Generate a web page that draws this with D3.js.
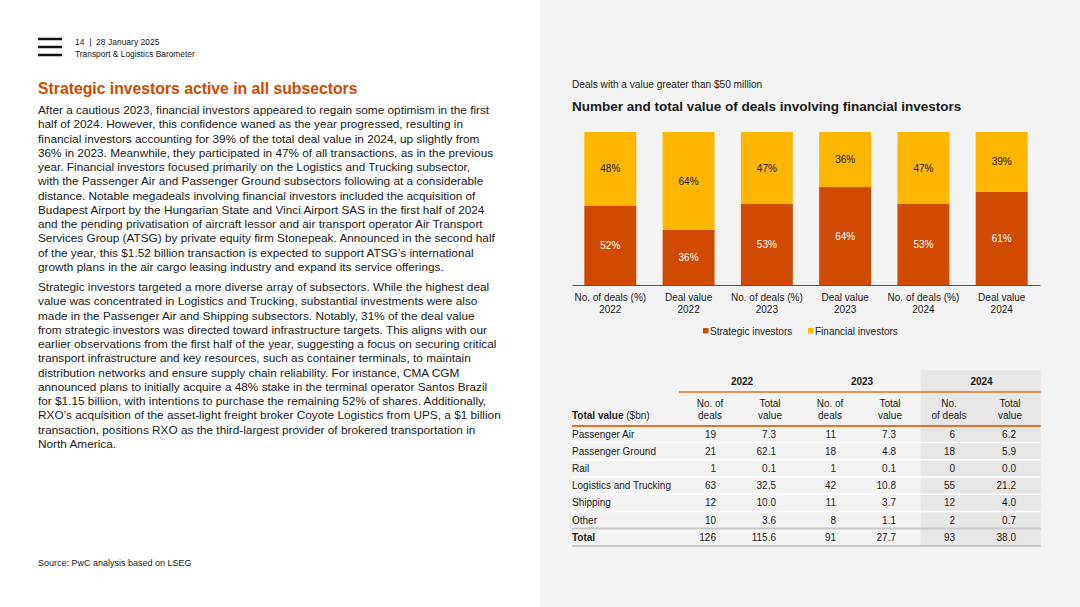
<!DOCTYPE html>
<html>
<head>
<meta charset="utf-8">
<script src="https://cdn.jsdelivr.net/npm/d3@7.9.0/dist/d3.min.js"></script>
<style>
  html, body { margin: 0; padding: 0; background: #fff; }
  svg { display: block; font-family: "Liberation Sans", Arial, sans-serif; }
</style>
</head>
<body>
<div id="page"></div>
<script>
// bar chart data
const categories = ['No. of deals (%)|2022', 'Deal value|2022', 'No. of deals (%)|2023',
  'Deal value|2023', 'No. of deals (%)|2024', 'Deal value|2024'];
const strategic = [52, 36, 53, 64, 53, 61];
const financial = [48, 64, 47, 36, 47, 39];
const seriesNames = ['Strategic investors', 'Financial investors'];

// table data
const years = ['2022', '2023', '2024'];
const sectors = ['Passenger Air', 'Passenger Ground', 'Rail', 'Logistics and Trucking', 'Shipping', 'Other', 'Total'];
const deals2022 = [19, 21, 1, 63, 12, 10, 126];
const value2022 = [7.3, 62.1, 0.1, 32.5, 10.0, 3.6, 115.6];
const deals2023 = [11, 18, 1, 42, 11, 8, 91];
const value2023 = [7.3, 4.8, 0.1, 10.8, 3.7, 1.1, 27.7];
const deals2024 = [6, 18, 0, 55, 12, 2, 93];
const value2024 = [6.2, 5.9, 0.0, 21.2, 4.0, 0.7, 38.0];

const para1 = [
  'After a cautious 2023, financial investors appeared to regain some optimism in the first',
  'half of 2024. However, this confidence waned as the year progressed, resulting in',
  'financial investors accounting for 39% of the total deal value in 2024, up slightly from',
  '36% in 2023. Meanwhile, they participated in 47% of all transactions, as in the previous',
  'year. Financial investors focused primarily on the Logistics and Trucking subsector,',
  'with the Passenger Air and Passenger Ground subsectors following at a considerable',
  'distance. Notable megadeals involving financial investors included the acquisition of',
  'Budapest Airport by the Hungarian State and Vinci Airport SAS in the first half of 2024',
  'and the pending privatisation of aircraft lessor and air transport operator Air Transport',
  'Services Group (ATSG) by private equity firm Stonepeak. Announced in the second half',
  'of the year, this $1.52 billion transaction is expected to support ATSG\u2019s international',
  'growth plans in the air cargo leasing industry and expand its service offerings.'
];
const para2 = [
  'Strategic investors targeted a more diverse array of subsectors. While the highest deal',
  'value was concentrated in Logistics and Trucking, substantial investments were also',
  'made in the Passenger Air and Shipping subsectors. Notably, 31% of the deal value',
  'from strategic investors was directed toward infrastructure targets. This aligns with our',
  'earlier observations from the first half of the year, suggesting a focus on securing critical',
  'transport infrastructure and key resources, such as container terminals, to maintain',
  'distribution networks and ensure supply chain reliability. For instance, CMA CGM',
  'announced plans to initially acquire a 48% stake in the terminal operator Santos Brazil',
  'for $1.15 billion, with intentions to purchase the remaining 52% of shares. Additionally,',
  'RXO\u2019s acquisition of the asset-light freight broker Coyote Logistics from UPS, a $1 billion',
  'transaction, positions RXO as the third-largest provider of brokered transportation in',
  'North America.'
];

const ORANGE = '#d04a02';
const YELLOW = '#ffb600';
const TEXT = '#1a1a1a';

const svg = d3.select('#page').append('svg')
  .attr('width', 1080).attr('height', 607);

// right grey panel
svg.append('rect').attr('x', 540).attr('y', 0).attr('width', 540).attr('height', 607).attr('fill', '#f3f3f3');

// header
[39, 47, 55].forEach(y => {
  svg.append('rect').attr('x', 38).attr('y', y - 1.25).attr('width', 24).attr('height', 2.5).attr('fill', '#111');
});
svg.append('text').attr('x', 75).attr('y', 45.3).attr('font-size', 8.5).attr('fill', TEXT)
  .attr('xml:space', 'preserve').text('14  |  28 January 2025');
svg.append('text').attr('x', 75).attr('y', 57.3).attr('font-size', 8.4).attr('fill', TEXT)
  .text('Transport & Logistics Barometer');

// left column text
svg.append('text').attr('x', 38).attr('y', 93.8).attr('font-size', 15.75).attr('font-weight', 'bold')
  .attr('fill', ORANGE).text('Strategic investors active in all subsectors');

function paragraph(lines, y0) {
  svg.append('g').selectAll('text').data(lines).join('text')
    .attr('x', 38).attr('y', (d, i) => y0 + i * 14.25)
    .attr('font-size', 11.8).attr('fill', TEXT).text(d => d);
}
paragraph(para1, 114.1);
paragraph(para2, 291.1);

svg.append('text').attr('x', 38).attr('y', 566.2).attr('font-size', 9).attr('fill', TEXT)
  .text('Source: PwC analysis based on LSEG');

// chart headings
svg.append('text').attr('x', 572).attr('y', 87.6).attr('font-size', 10.1).attr('fill', TEXT)
  .text('Deals with a value greater than $50 million');
svg.append('text').attr('x', 572).attr('y', 111.2).attr('font-size', 13.5).attr('font-weight', 'bold')
  .attr('fill', TEXT).text('Number and total value of deals involving financial investors');

// stacked bars
const x = d3.scaleBand().domain(categories).range([572, 1040]).paddingInner(0.336).paddingOuter(0.157);
const y = d3.scaleLinear().domain([0, 100]).range([285, 132]);

const rows = categories.map((c, i) => ({ cat: c, strategic: strategic[i], financial: financial[i] }));
const stack = d3.stack().keys(['strategic', 'financial'])(rows);
const colors = { strategic: ORANGE, financial: YELLOW };
const labelColors = { strategic: '#ffffff', financial: TEXT };

const layers = svg.append('g').selectAll('g').data(stack).join('g')
  .attr('fill', d => colors[d.key]);
layers.selectAll('rect').data(d => d).join('rect')
  .attr('x', d => x(d.data.cat))
  .attr('y', d => y(d[1]))
  .attr('width', x.bandwidth())
  .attr('height', d => y(d[0]) - y(d[1]));

stack.forEach(layer => {
  svg.append('g').selectAll('text').data(layer).join('text')
    .attr('x', d => x(d.data.cat) + x.bandwidth() / 2)
    .attr('y', d => (y(d[0]) + y(d[1])) / 2 + 3.6)
    .attr('text-anchor', 'middle').attr('font-size', 10)
    .attr('fill', labelColors[layer.key])
    .text(d => d.data[layer.key] + '%');
});

const xAxis = svg.append('g').attr('transform', 'translate(0,285)')
  .call(d3.axisBottom(x).tickSize(0).tickSizeOuter(0).tickFormat(''));
xAxis.select('.domain').attr('stroke', '#555').attr('stroke-width', 1);
xAxis.selectAll('.tick text').remove();
xAxis.selectAll('.tick').each(function (d) {
  const parts = d.split('|');
  const t = d3.select(this).append('text').attr('fill', TEXT).attr('font-size', 10)
    .attr('text-anchor', 'middle');
  parts.forEach((p, i) => t.append('tspan').attr('x', 0).attr('y', 15.5 + i * 12).text(p));
});

// legend
const legend = svg.append('g');
[[703, 'strategic'], [808, 'financial']].forEach(([lx, key], i) => {
  legend.append('rect').attr('x', lx).attr('y', 328).attr('width', 5.5).attr('height', 5.5).attr('fill', colors[key]);
  legend.append('text').attr('x', lx + 7).attr('y', 334.5).attr('font-size', 10).attr('fill', TEXT).text(seriesNames[i]);
});

// table
const colRight = [716, 776, 836, 896, 955, 1016];
const colVals = [deals2022, value2022, deals2023, value2023, deals2024, value2024];
const rowY = d3.scaleLinear().domain([0, 1]).range([434, 451.2]);

const tbl = svg.append('g').attr('font-size', 10).attr('fill', TEXT);
tbl.append('rect').attr('x', 920.7).attr('y', 370).attr('width', 120).attr('height', 176).attr('fill', '#e6e6e6');

years.forEach((yr, i) => {
  tbl.append('text').attr('x', (colRight[i * 2] + colRight[i * 2 + 1]) / 2 - 4).attr('y', 384.5)
    .attr('text-anchor', 'middle').attr('font-weight', 'bold').text(yr);
});
tbl.append('line').attr('x1', 679).attr('x2', 1040.7).attr('y1', 392).attr('y2', 392)
  .attr('stroke', '#e0702a').attr('stroke-width', 1.5);

const subHeads = [['No. of', 'deals'], ['Total', 'value'], ['No. of', 'deals'], ['Total', 'value'], ['No.', 'of deals'], ['Total', 'value']];
subHeads.forEach((h, i) => {
  h.forEach((line, j) => {
    tbl.append('text').attr('x', colRight[i] - 6).attr('y', 406.5 + j * 12.5)
      .attr('text-anchor', 'middle').text(line);
  });
});
const th = tbl.append('text').attr('x', 572).attr('y', 419);
th.append('tspan').attr('font-weight', 'bold').text('Total value');
th.append('tspan').text(' ($bn)');
tbl.append('line').attr('x1', 572).attr('x2', 1040.7).attr('y1', 426).attr('y2', 426)
  .attr('stroke', '#e0702a').attr('stroke-width', 2);

// row separators
sectors.slice(0, -2).forEach((s, i) => {
  const sy = (rowY(i) + rowY(i + 1)) / 2;
  tbl.append('line').attr('x1', 572).attr('x2', 1040.7).attr('y1', sy).attr('y2', sy)
    .attr('stroke', '#ffffff').attr('stroke-width', 1.5);
});
const lastSep = (rowY(sectors.length - 2) + rowY(sectors.length - 1)) / 2;
tbl.append('line').attr('x1', 572).attr('x2', 1040.7).attr('y1', lastSep).attr('y2', lastSep)
  .attr('stroke', '#c8c8c8').attr('stroke-width', 2);
const bottom = rowY(sectors.length - 1) + 8.8;
tbl.append('line').attr('x1', 572).attr('x2', 1040.7).attr('y1', bottom).attr('y2', bottom)
  .attr('stroke', '#c8c8c8').attr('stroke-width', 2);

sectors.forEach((s, r) => {
  const isTotal = s === 'Total';
  tbl.append('text').attr('x', 572).attr('y', rowY(r) + 3.6)
    .attr('font-weight', isTotal ? 'bold' : null).text(s);
  colVals.forEach((vals, c) => {
    tbl.append('text').attr('x', colRight[c]).attr('y', rowY(r) + 3.6)
      .attr('text-anchor', 'end')
      .text(c % 2 === 1 ? d3.format('.1f')(vals[r]) : vals[r]);
  });
});
</script>
</body>
</html>
